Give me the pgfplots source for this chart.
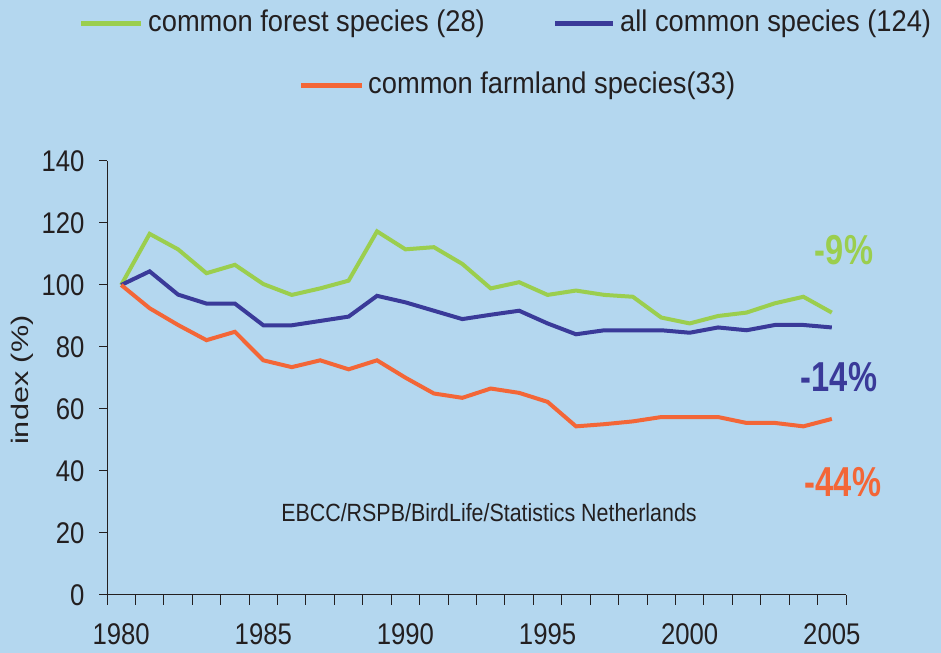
\documentclass[border=0pt]{standalone}
\usepackage{fontspec}
\setmainfont{Liberation Sans}[FakeStretch=0.86]
\newfontfamily\legfont{Liberation Sans}[FakeStretch=0.913]
\newfontfamily\ylabfont{Liberation Sans}[FakeStretch=1.28]
\newfontfamily\annfont{Liberation Sans}[FakeStretch=0.78]
\newfontfamily\srcfont{Liberation Sans}[FakeStretch=0.86]
\usepackage{pgfplots}
\pgfplotsset{compat=1.18}
\definecolor{bg}{RGB}{180,215,239}
\definecolor{cgreen}{RGB}{155,206,78}
\definecolor{cblue}{RGB}{58,58,153}
\definecolor{corange}{RGB}{243,102,55}
\definecolor{ctext}{RGB}{35,31,32}
\begin{document}
\begin{tikzpicture}[x=1bp,y=1bp]
\fill[bg] (0,0) rectangle (941,653);
\begin{axis}[
  at={(107bp,58bp)}, anchor=south west,
  scale only axis, width=739bp, height=434bp,
  xmin=1979.5, xmax=2005.5, ymin=0, ymax=140,
  axis lines*=left,
  axis line style={ctext, line width=1bp},
  xtick={1980,1985,1990,1995,2000,2005},
  xticklabels={1980,1985,1990,1995,2000,2005},
  major x tick style={draw=none},
  minor xtick={1979.5,1980.5,...,2005.5},
  ytick={0,20,40,60,80,100,120,140},
  tick align=outside,
  tick style={ctext, line width=1bp},
  major tick length=8bp, minor tick length=10bp,
  /pgf/number format/assume math mode=true,
  ticklabel style={font=\fontsize{30}{34}\selectfont, text=ctext},
  x tick label style={yshift=-17.5bp},
  y tick label style={xshift=-11bp},
  ylabel={index (\%)},
  every axis y label/.style={at={(axis description cs:-0.115,0.495)}, rotate=90, anchor=center, font=\fontsize{24}{28}\ylabfont, text=ctext},
  clip=false,
]
\addplot[cgreen, line width=4bp] coordinates {
(1980,100) (1981,116.5) (1982,111.5) (1983,103.8) (1984,106.5) (1985,100.3)
(1986,96.8) (1987,98.9) (1988,101.4) (1989,117.3) (1990,111.5) (1991,112.2)
(1992,106.8) (1993,98.9) (1994,100.9) (1995,96.8) (1996,98.2) (1997,96.8)
(1998,96.2) (1999,89.5) (2000,87.6) (2001,90.0) (2002,91.1) (2003,94.1)
(2004,96.2) (2005,91.1)};
\addplot[cblue, line width=4bp] coordinates {
(1980,100) (1981,104.4) (1982,96.9) (1983,94.0) (1984,94.0) (1985,87.0)
(1986,87.0) (1987,88.4) (1988,89.8) (1989,96.5) (1990,94.4) (1991,91.7)
(1992,89.0) (1993,90.4) (1994,91.7) (1995,87.6) (1996,84.1) (1997,85.4)
(1998,85.4) (1999,85.4) (2000,84.6) (2001,86.3) (2002,85.4) (2003,87.1)
(2004,87.1) (2005,86.3)};
\addplot[corange, line width=4bp] coordinates {
(1980,100) (1981,92.5) (1982,87.1) (1983,82.2) (1984,84.9) (1985,75.7)
(1986,73.5) (1987,75.7) (1988,72.8) (1989,75.7) (1990,70.1) (1991,65.0)
(1992,63.6) (1993,66.6) (1994,65.2) (1995,62.3) (1996,54.4) (1997,55.1)
(1998,56.0) (1999,57.4) (2000,57.4) (2001,57.4) (2002,55.5) (2003,55.5)
(2004,54.4) (2005,56.8)};
\end{axis}
% legend
\draw[cgreen, line width=5bp] (81,629) -- (141,629);
\node[anchor=west, inner sep=0pt, text=ctext, font=\fontsize{30}{34}\legfont] at (148,629) {common forest species (28)};
\draw[cblue, line width=5bp] (555,629) -- (613,629);
\node[anchor=west, inner sep=0pt, text=ctext, font=\fontsize{30}{34}\legfont] at (620,629) {all common species (124)};
\draw[corange, line width=5bp] (301,567) -- (362,567);
\node[anchor=west, inner sep=0pt, text=ctext, font=\fontsize{30}{34}\legfont] at (368,567) {common farmland species(33)};
% annotations
\node[text=cgreen, font=\fontsize{42}{48}\annfont\bfseries] at (844,403) {-9\%};
\node[text=cblue, font=\fontsize{42}{48}\annfont\bfseries] at (839,276) {-14\%};
\node[text=corange, font=\fontsize{42}{48}\annfont\bfseries] at (843,171) {-44\%};
\node[text=ctext, font=\fontsize{25}{29}\srcfont] at (489,140) {EBCC/RSPB/BirdLife/Statistics Netherlands};
\end{tikzpicture}
\end{document}
